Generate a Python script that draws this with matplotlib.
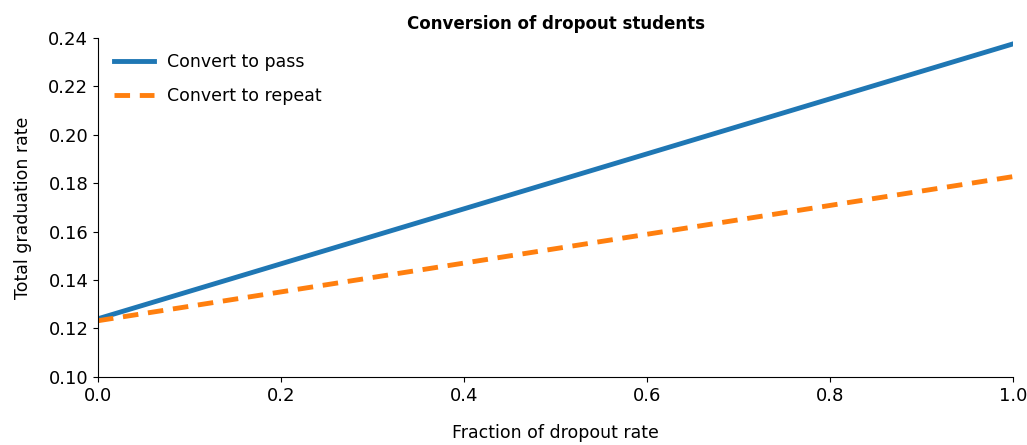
import matplotlib
matplotlib.use("Agg")
import matplotlib.pyplot as plt

fraction = [0.0, 0.2, 0.4, 0.6, 0.8, 1.0]
convert_to_pass = [0.1240, 0.1467, 0.1694, 0.1921, 0.2148, 0.2375]
convert_to_repeat = [0.1232, 0.1351, 0.1470, 0.1589, 0.1708, 0.1827]

fig = plt.figure(figsize=(10.27, 4.45), dpi=100)
ax = fig.add_axes([0.0954, 0.153, 0.891, 0.762])
ax.plot(fraction, convert_to_pass, color="#1f77b4", lw=3.5, label="Convert to pass")
ax.plot(fraction, convert_to_repeat, color="#ff7f0e", lw=3.5, ls=(0, (3.2, 2.0)), label="Convert to repeat")
ax.set_xlim(0, 1)
ax.set_ylim(0.10, 0.24)
ax.set_xticks([0.0, 0.2, 0.4, 0.6, 0.8, 1.0])
ax.set_yticks([0.10, 0.12, 0.14, 0.16, 0.18, 0.20, 0.22, 0.24])
ax.tick_params(labelsize=13)
ax.spines["top"].set_visible(False)
ax.spines["right"].set_visible(False)
ax.set_xlabel("Fraction of dropout rate", fontsize=12.5, labelpad=14)
ax.set_ylabel("Total graduation rate", fontsize=12.5, labelpad=12)
ax.set_title("Conversion of dropout students", fontsize=12, fontweight="bold")
ax.legend(loc="upper left", frameon=False, fontsize=12.5, labelspacing=0.9,
          handlelength=2.3, borderaxespad=0.5)
fig.savefig("out.png", dpi=100)
